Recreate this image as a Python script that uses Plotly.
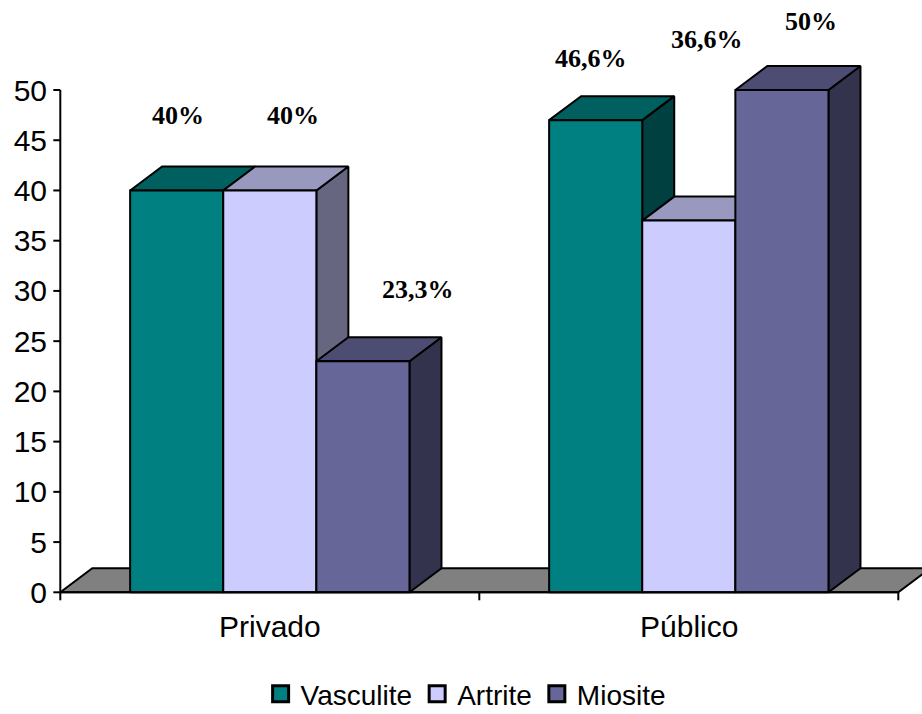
import plotly.graph_objects as go

# ---------------- data ----------------
categories = ["Privado", "Público"]
series_names = ["Vasculite", "Artrite", "Miosite"]
vasculite = [40, 47]
artrite = [40, 37]
miosite = [23, 50]
label_text = [["40%", "46,6%"], ["40%", "36,6%"], ["23,3%", "50%"]]
y_ticks = [0, 5, 10, 15, 20, 25, 30, 35, 40, 45, 50]

# ---------------- style ----------------
front = ["#008080", "#CCCCFF", "#666699"]
top_c = ["#006060", "#9999BF", "#4D4D73"]
side_c = ["#004040", "#666680", "#33334D"]
floor_c = "#808080"
values = [vasculite, artrite, miosite]

W, H = 922, 714
ML, MR, MT, MB = 50, 0, 0, 110
PXX = 419.0        # px per category unit
PXY = 10.046       # px per y unit
X0PX = 60.3        # pixel of x=-0.5
Y0PX = 592.3       # pixel of y=0
DEPTH_X, DEPTH_Y = 32, 24   # 3D depth in px
dx = DEPTH_X / PXX
dy = DEPTH_Y / PXY
bar_w = 2 / 9

xmin = -0.5 - (X0PX - ML) / PXX
xmax = -0.5 + (W - MR - X0PX) / PXX
ymin = -((H - MB) - Y0PX) / PXY
ymax = (Y0PX - MT) / PXY

# label shifts (px) relative to bar front-top centre
label_shift = [[(1, 75), (-5, 62)], [(23, 75), (18, 181)], [(55, 72), (29, 69)]]

fig = go.Figure()
LINE = dict(color="black", width=2)


def poly(xs, ys, color):
    fig.add_trace(go.Scatter(x=xs + [xs[0]], y=ys + [ys[0]], mode="lines",
                             fill="toself", fillcolor=color, line=LINE,
                             hoverinfo="skip", showlegend=False))


# floor
fl, fr = -0.5, len(categories) - 0.5
poly([fl, fr, fr + dx, fl + dx], [0, 0, dy, dy], floor_c)

# bars (left to right painter's order)
for ci, cat in enumerate(categories):
    for si in range(len(series_names)):
        v = values[si][ci]
        l = ci - 1 / 3 + si * bar_w
        r = l + bar_w
        poly([r, r + dx, r + dx, r], [0, dy, v + dy, v], side_c[si])
        poly([l, r, r + dx, l + dx], [v, v, v + dy, v + dy], top_c[si])
        poly([l, r, r, l], [0, 0, v, v], front[si])
        sx, sy = label_shift[si][ci]
        fig.add_annotation(x=(l + r) / 2, y=v, xref="x", yref="y", text=label_text[si][ci],
                           showarrow=False, xshift=sx, yshift=sy, xanchor="center",
                           yanchor="middle",
                           font=dict(family="Liberation Serif", size=26, color="black",
                                     weight="bold"))

# axis lines and ticks
ax_x, ax_y = [], []
ax_x += [-0.5, -0.5, None, -0.5, len(categories) - 0.5, None]
ax_y += [y_ticks[0], y_ticks[-1], None, 0, 0, None]
for t in y_ticks:
    ax_x += [-0.5 - 7 / PXX, -0.5, None]
    ax_y += [t, t, None]
for b in range(len(categories) + 1):
    ax_x += [b - 0.5, b - 0.5, None]
    ax_y += [0, -8 / PXY, None]
fig.add_trace(go.Scatter(x=ax_x, y=ax_y, mode="lines", line=dict(color="black", width=2),
                         hoverinfo="skip", showlegend=False))

# category labels
for ci, cat in enumerate(categories):
    fig.add_annotation(x=ci, y=0, xref="x", yref="y", text=cat, showarrow=False,
                       yanchor="middle", yshift=-34,
                       font=dict(family="Liberation Sans", size=30, color="black"))

# legend entries
for si, name in enumerate(series_names):
    fig.add_trace(go.Scatter(x=[None], y=[None], mode="markers", name=name,
                             marker=dict(symbol="square", size=16, color=front[si],
                                         line=dict(color="black", width=3))))

fig.update_layout(
    width=W, height=H, margin=dict(l=ML, r=MR, t=MT, b=MB),
    paper_bgcolor="white", plot_bgcolor="white",
    xaxis=dict(range=[xmin, xmax], showgrid=False, zeroline=False, showline=False,
               showticklabels=False, ticks="", fixedrange=True),
    yaxis=dict(range=[ymin, ymax], showgrid=False, zeroline=False, showline=False,
               tickvals=y_ticks, ticks="", ticklabelstandoff=2,
               tickfont=dict(family="Liberation Sans", size=30, color="black"),
               fixedrange=True),
    legend=dict(orientation="h", xref="container", yref="container", x=0.505,
                y=1 - 694 / H, xanchor="center", yanchor="middle", itemwidth=30,
                font=dict(family="Liberation Sans", size=28, color="black"),
                itemsizing="trace"),
    showlegend=True,
)

fig.write_html("out.html")
